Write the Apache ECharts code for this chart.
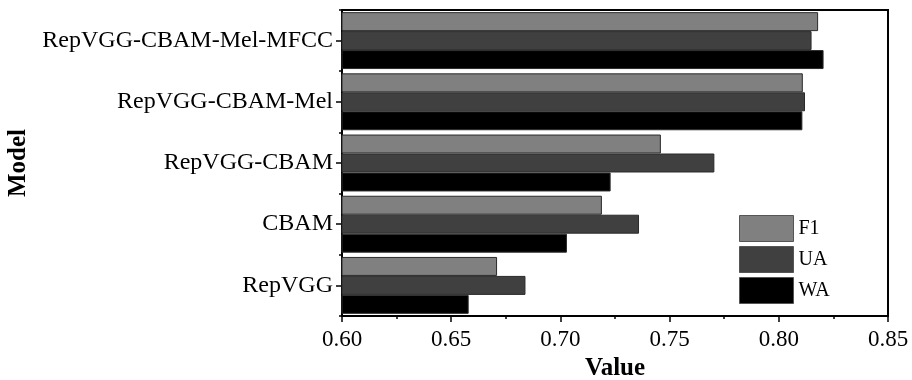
<!DOCTYPE html>
<html>
<head>
<meta charset="utf-8">
<script src="https://cdn.jsdelivr.net/npm/echarts@6/dist/echarts.min.js"></script>
<style>
  html, body { margin: 0; padding: 0; background: #fff; }
  #chart { width: 912px; height: 380px; }
</style>
</head>
<body>
<div id="chart"></div>
<script>
// categories, bottom to top
const models = ["RepVGG", "CBAM", "RepVGG-CBAM", "RepVGG-CBAM-Mel", "RepVGG-CBAM-Mel-MFCC"];
const f1 = [0.671, 0.719, 0.746, 0.811, 0.818];
const ua = [0.684, 0.736, 0.7705, 0.812, 0.815];
const wa = [0.658, 0.703, 0.723, 0.8108, 0.8205];
const legendNames = ["F1", "UA", "WA"];

const serif = "'Liberation Serif', 'DejaVu Serif', serif";
const chart = echarts.init(document.getElementById("chart"));

const barSeries = (name, data, color) => ({
  name,
  type: "bar",
  data,
  barGap: "0%",
  barCategoryGap: "7%",
  itemStyle: { color, borderColor: "#2a2a2a", borderWidth: 1 },
  animation: false,
});

chart.setOption({
  backgroundColor: "#fff",
  grid: {
    left: 342, right: 24, top: 10, bottom: 64,
    outerBoundsMode: "none",
    containLabel: false,
    show: true, borderColor: "#000", borderWidth: 2, backgroundColor: "transparent",
  },
  legend: {
    data: legendNames,
    orient: "vertical",
    left: 739, top: 215,
    padding: 0,
    itemWidth: 54, itemHeight: 26, itemGap: 4,
    icon: "rect",
    itemStyle: { borderWidth: 1, borderColor: "#555" },
    textStyle: { fontFamily: serif, fontSize: 20, color: "#000", lineHeight: 26 },
  },
  xAxis: {
    type: "value",
    min: 0.6, max: 0.85, interval: 0.05,
    name: "Value",
    nameLocation: "middle",
    nameGap: 38,
    nameTextStyle: { fontFamily: serif, fontSize: 25, fontWeight: "bold", color: "#000" },
    axisLine: { show: true, lineStyle: { color: "#000", width: 2 } },
    axisTick: { show: true, inside: false, length: 6, lineStyle: { color: "#000", width: 1.5 } },
    minorTick: { show: true, splitNumber: 2, length: 3, lineStyle: { color: "#000", width: 1.5 } },
    splitLine: { show: false },
    axisLabel: {
      fontFamily: serif, fontSize: 23, color: "#000", margin: 12,
      formatter: (v) => v.toFixed(2),
    },
  },
  yAxis: [
    {
      type: "category",
      data: models,
      name: "Model",
      nameLocation: "middle",
      nameGap: 309,
      nameTextStyle: { fontFamily: serif, fontSize: 25, fontWeight: "bold", color: "#000" },
      axisLine: { show: true, lineStyle: { color: "#000", width: 2 } },
      axisTick: { show: true, alignWithLabel: true, length: 6, lineStyle: { color: "#000", width: 1.5 } },
      axisLabel: { fontFamily: serif, fontSize: 24, color: "#000", margin: 9 },
    },
    {
      type: "category",
      data: models,
      position: "left",
      axisLine: { show: false },
      axisTick: { show: true, length: 3, lineStyle: { color: "#000", width: 1.5 } },
      axisLabel: { show: false },
    },
  ],
  series: [
    barSeries("F1", f1, "#808080"),
    barSeries("UA", ua, "#404040"),
    barSeries("WA", wa, "#000000"),
  ],
});
</script>
</body>
</html>
